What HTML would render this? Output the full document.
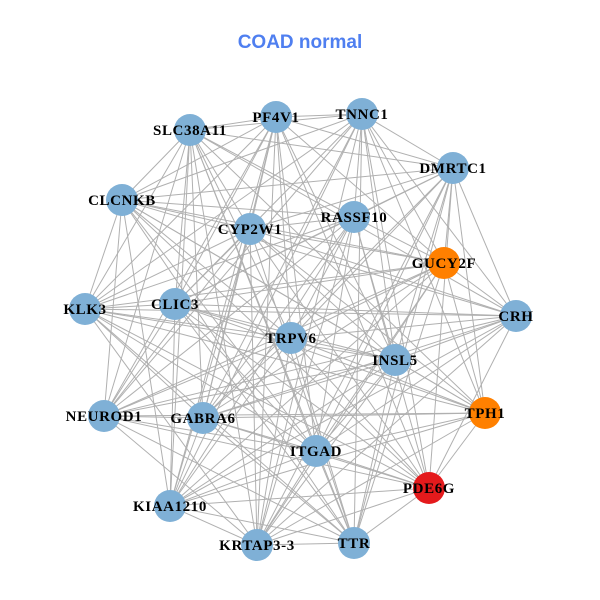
<!DOCTYPE html>
<html><head><meta charset="utf-8"><style>
html,body{margin:0;padding:0;background:#fff;}
svg{display:block}
</style></head><body>
<svg id="g" width="600" height="600" xmlns="http://www.w3.org/2000/svg">
<text x="300" y="48" text-anchor="middle" font-family="Liberation Sans, sans-serif" font-weight="bold" font-size="19" fill="#4f7ff0">COAD normal</text>
<g id="edges" stroke="#b0b0b0" stroke-width="1"></g>
<g id="nodes"></g>
</svg>
<script>
var N=[["PF4V1",276,117,"#7fb0d6"],["TNNC1",362,114,"#7fb0d6"],["SLC38A11",190,130,"#7fb0d6"],["DMRTC1",453,168,"#7fb0d6"],["CLCNKB",122,200,"#7fb0d6"],["RASSF10",354,217,"#7fb0d6"],["CYP2W1",250,229,"#7fb0d6"],["GUCY2F",444,263,"#ff8000"],["KLK3",85,309,"#7fb0d6"],["CLIC3",175,304,"#7fb0d6"],["CRH",516,316,"#7fb0d6"],["TRPV6",291,338,"#7fb0d6"],["INSL5",395,360,"#7fb0d6"],["NEUROD1",104,416,"#7fb0d6"],["GABRA6",203,418,"#7fb0d6"],["TPH1",485,413,"#ff8000"],["ITGAD",316,451,"#7fb0d6"],["PDE6G",429,488,"#e41a1c"],["KIAA1210",170,506,"#7fb0d6"],["KRTAP3-3",257,545,"#7fb0d6"],["TTR",354,543,"#7fb0d6"]];
var ns="http://www.w3.org/2000/svg",E=document.getElementById("edges"),G=document.getElementById("nodes");
for(var i=0;i<N.length;i++)for(var j=i+1;j<N.length;j++){
 if((i*7+j*3)%5==0)continue;
 var l=document.createElementNS(ns,"line");
 l.setAttribute("x1",N[i][1]);l.setAttribute("y1",N[i][2]);l.setAttribute("x2",N[j][1]);l.setAttribute("y2",N[j][2]);E.appendChild(l);}
N.forEach(function(n){
 var c=document.createElementNS(ns,"circle");c.setAttribute("cx",n[1]);c.setAttribute("cy",n[2]);c.setAttribute("r",16);c.setAttribute("fill",n[3]);G.appendChild(c);});
N.forEach(function(n){
 var t=document.createElementNS(ns,"text");t.setAttribute("x",n[1]);t.setAttribute("y",n[2]+5);t.setAttribute("text-anchor","middle");
 t.setAttribute("font-family","Liberation Serif, serif");t.setAttribute("font-weight","bold");t.setAttribute("font-size","15");t.setAttribute("letter-spacing","0.6");t.textContent=n[0];G.appendChild(t);});
</script>
</body></html>
